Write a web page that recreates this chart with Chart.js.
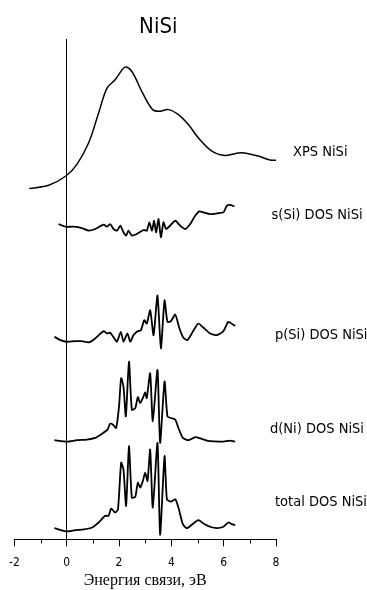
<!DOCTYPE html>
<html>
<head>
<meta charset="utf-8">
<script src="https://cdn.jsdelivr.net/npm/chart.js@4/dist/chart.umd.min.js"></script>
<style>
  html, body { margin: 0; padding: 0; background: #fff; overflow: hidden; }
  #grafico { display: block; }
</style>
</head>
<body>
<canvas id="grafico" width="367" height="590"></canvas>
<script>
// energia (eV) e intensidade (u.a.)
const xpsEnergia = [-1.43, -0.69, -0.03, 0.39, 0.84, 1.22, 1.54, 1.85, 2.23, 2.49, 2.87, 3.26, 3.51, 3.89, 4.27, 4.65, 5.03, 5.55, 6.05, 6.69, 7.32, 7.77, 8.03];
const xpsValor   = [0.07, 0.4, 1.33, 2.5, 4.67, 7.67, 10.17, 11.0, 12.27, 11.83, 9.83, 8.07, 7.83, 8.0, 7.5, 6.5, 5.17, 3.83, 3.4, 3.67, 3.33, 2.93, 2.9];

const sSiEnergia = [-0.31, -0.05, 0.26, 0.58, 0.84, 1.09, 1.41, 1.54, 1.66, 1.79, 1.92, 2.05, 2.17, 2.27, 2.36, 2.49, 2.68, 2.94, 3.06, 3.16, 3.26, 3.34, 3.42, 3.51, 3.60, 3.70, 3.80, 3.95, 4.15, 4.34, 4.53, 4.72, 4.91, 5.07, 5.23, 5.48, 5.74, 5.99, 6.12, 6.24, 6.41];
const sSiValor   = [1.5, 1.23, 1.23, 1.1, 0.83, 1.0, 1.43, 1.23, 1.5, 1.0, 0.83, 1.33, 0.67, 0.33, 0.83, 0.33, 0.5, 0.9, 0.83, 1.67, 0.83, 1.83, 0.67, 2.0, 0.17, 1.67, 1.0, 1.33, 1.83, 1.33, 1.0, 1.5, 2.33, 2.77, 2.67, 2.5, 2.57, 2.67, 3.33, 3.43, 3.27];

const pSiEnergia = [-0.47, -0.24, 0.01, 0.33, 0.58, 0.84, 1.09, 1.41, 1.54, 1.66, 1.82, 1.92, 2.07, 2.17, 2.32, 2.43, 2.55, 2.71, 2.84, 2.96, 3.06, 3.19, 3.32, 3.47, 3.60, 3.74, 3.85, 3.98, 4.15, 4.31, 4.46, 4.61, 4.78, 5.03, 5.23, 5.48, 5.74, 5.99, 6.18, 6.35, 6.44];
const pSiValor   = [0.67, 0.33, 0.17, 0.23, 0.23, 0.1, 0.5, 1.23, 1.0, 1.07, 0.5, 0.17, 1.17, 0.17, 1.0, 0.17, 0.83, 1.23, 1.33, 2.33, 2.0, 3.33, 0.83, 4.83, -0.5, 4.33, 2.17, 2.23, 2.9, 1.5, 0.57, 0.33, 1.0, 2.0, 1.57, 1.0, 0.83, 1.23, 2.17, 1.9, 1.77];

const dNiEnergia = [-0.47, 0.01, 0.39, 0.77, 1.09, 1.35, 1.56, 1.66, 1.77, 1.89, 2.00, 2.08, 2.17, 2.26, 2.38, 2.49, 2.62, 2.72, 2.81, 2.91, 3.00, 3.06, 3.19, 3.29, 3.47, 3.57, 3.74, 3.85, 3.98, 4.15, 4.27, 4.44, 4.65, 4.91, 5.16, 5.48, 5.99, 6.24, 6.44];
const dNiValor   = [0.17, 0.03, 0.17, 0.23, 0.4, 0.83, 1.23, 1.83, 1.73, 1.4, 3.57, 6.4, 5.57, 2.57, 8.07, 3.23, 3.4, 4.5, 3.9, 4.4, 4.97, 4.4, 6.9, 2.07, 7.23, -0.1, 6.07, 2.57, 2.4, 2.23, 1.4, 0.4, 0.17, 0.47, 0.3, 0.07, 0.03, 0.13, 0.03];

const totalEnergia = [-0.47, 0.01, 0.33, 0.65, 0.97, 1.22, 1.47, 1.60, 1.70, 1.85, 1.96, 2.08, 2.17, 2.27, 2.38, 2.49, 2.62, 2.72, 2.81, 2.91, 3.00, 3.09, 3.19, 3.29, 3.47, 3.57, 3.74, 3.83, 3.98, 4.15, 4.27, 4.44, 4.59, 4.78, 5.03, 5.23, 5.48, 5.74, 5.99, 6.18, 6.31, 6.44];
const totalValor   = [0.33, 0, 0.13, 0.2, 0.4, 0.9, 1.57, 1.57, 2.3, 1.9, 2.23, 6.9, 6.23, 2.57, 8.57, 3.4, 3.47, 4.9, 4.4, 5.07, 5.9, 5.07, 8.23, 2.4, 8.9, -0.33, 7.57, 3.23, 3.0, 3.23, 2.4, 0.73, 0.33, 0.67, 1.13, 0.8, 0.47, 0.33, 0.47, 0.9, 0.73, 0.63];

const nomesCurvas = ['XPS NiSi', 's(Si) DOS NiSi', 'p(Si) DOS NiSi', 'd(Ni) DOS NiSi', 'total DOS NiSi'];
const deslocamento = [35.2, 30.2, 19.7, 9.8, 0.8];
const ticksX = [-2, 0, 2, 4, 6, 8];

const curvas = [
    [xpsEnergia, xpsValor],
    [sSiEnergia, sSiValor],
    [pSiEnergia, pSiValor],
    [dNiEnergia, dNiValor],
    [totalEnergia, totalValor]
];

// posicao dos rotulos (energia do inicio do texto, altura)
const posRotulos = [[8.65, 38.9], [7.83, 32.6], [7.96, 20.5], [7.77, 11.1], [7.96, 3.7]];

const fonteSans = '"DejaVu Sans Condensed", "DejaVu Sans", sans-serif';

const rotulosPlugin = {
    id: 'rotulos',
    afterDraw(chart) {
        const c = chart.ctx;
        const x = chart.scales.x, y = chart.scales.y;
        c.save();
        c.fillStyle = '#000';
        // titulo
        c.font = '22px ' + fonteSans;
        c.textAlign = 'center';
        c.textBaseline = 'middle';
        c.fillText('NiSi', x.getPixelForValue(3.5), 27);
        // nomes das curvas
        c.font = '14.5px ' + fonteSans;
        c.textAlign = 'left';
        nomesCurvas.forEach((nome, i) => {
            c.fillText(nome, x.getPixelForValue(posRotulos[i][0]), y.getPixelForValue(posRotulos[i][1]));
        });
        // ticks menores
        c.strokeStyle = '#000';
        c.lineWidth = 1;
        for (let v = -1; v <= 7; v += 2) {
            const px = Math.round(x.getPixelForValue(v)) + 0.5;
            c.beginPath();
            c.moveTo(px, chart.chartArea.bottom);
            c.lineTo(px, chart.chartArea.bottom + 4);
            c.stroke();
        }
        c.restore();
    }
};

const ctx = document.getElementById('grafico').getContext('2d');
new Chart(ctx, {
    type: 'line',
    data: {
        datasets: curvas.map((cv, i) => ({
            label: nomesCurvas[i],
            data: cv[0].map((e, k) => ({ x: e, y: cv[1][k] + deslocamento[i] })),
            borderColor: '#000',
            borderWidth: i === 0 ? 1.5 : 1.8,
            pointRadius: 0,
            tension: i === 0 ? 0.35 : 0.2,
            fill: false
        }))
    },
    options: {
        responsive: false,
        animation: false,
        layout: { padding: { top: 39, left: 14, right: 91, bottom: 0 } },
        plugins: { legend: { display: false }, title: { display: false }, tooltip: { enabled: false } },
        scales: {
            x: {
                type: 'linear',
                min: -2,
                max: 8,
                afterBuildTicks: (s) => { s.ticks = ticksX.map(v => ({ value: v })); },
                border: { display: true, color: '#000', width: 1 },
                grid: {
                    color: (c) => (c.tick && c.tick.value === 0 ? '#000' : 'rgba(0,0,0,0)'),
                    tickColor: '#000',
                    tickLength: 7,
                    lineWidth: 1
                },
                ticks: {
                    color: '#000',
                    padding: 9,
                    maxRotation: 0,
                    font: { family: fonteSans, size: 12 }
                },
                title: {
                    display: true,
                    text: 'Энергия связи, эВ',
                    color: '#000',
                    padding: { top: -8, bottom: 0 },
                    font: { family: '"Liberation Serif", "Times New Roman", serif', size: 16 }
                }
            },
            y: {
                type: 'linear',
                display: false,
                min: 0,
                max: 50.3
            }
        }
    },
    plugins: [rotulosPlugin]
});
</script>
</body>
</html>
